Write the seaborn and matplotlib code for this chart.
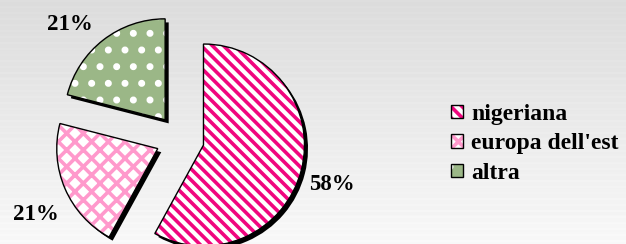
import numpy as np
import matplotlib
matplotlib.use("Agg")
import matplotlib.pyplot as plt
import matplotlib.transforms as mtransforms
import seaborn as sns
from matplotlib.patches import Patch

sns.set_theme(style="white")
plt.rcParams['font.family'] = ['Liberation Serif', 'DejaVu Serif']
plt.rcParams['text.color'] = 'black'
plt.rcParams['hatch.linewidth'] = 2.6

# data
labels = ['nigeriana', "europa dell'est", 'altra']
values = [58, 21, 21]
face_colors = ['#ffffff', '#ffffff', '#9bb787']
hatch_colors = ['#f0067f', '#ff99cc', '#ffffff']
hatches = ['\\\\\\', 'xx', '.']

W, H = 626, 244
cx_px, cy_px, r_px = 180, 139, 101
# small pixel nudges for the percentage labels
label_nudge = [(-3, -6), (2, -12), (-12, -12)]

fig = plt.figure(figsize=(W / 100, H / 100), dpi=100)

# background gradient with faint horizontal stripes
bg = fig.add_axes([0, 0, 1, 1], zorder=0)
rows = np.linspace(0.86, 0.97, H)
rows = rows + np.where((np.arange(H) // 2) % 3 == 0, 0.008, 0.0)
bg.imshow(np.tile(rows[:, None], (1, W)), cmap='gray', vmin=0, vmax=1,
          aspect='auto', interpolation='nearest')
bg.axis('off')

ax = fig.add_axes([0, 0, 1, 1], zorder=1)
ax.patch.set_alpha(0)

explode = [0.24] * len(values)
off = 0.035

# shadow
ax.pie(values, explode=explode, startangle=90, counterclock=False,
       center=(off, -off), colors=['black'] * len(values),
       wedgeprops=dict(linewidth=0))

# hatched fill
wedges, _, autotexts = ax.pie(values, explode=explode, startangle=90,
                              counterclock=False, colors=face_colors,
                              autopct='%1.0f%%', pctdistance=1.34,
                              wedgeprops=dict(linewidth=0),
                              textprops=dict(fontsize=16.5, fontweight='bold',
                                             color='black'))
for w, h, hc in zip(wedges, hatches, hatch_colors):
    w.set_hatch(h)
    w.set_edgecolor(hc)

for t, (dx, dy) in zip(autotexts, label_nudge):
    t.set_transform(ax.transData + mtransforms.Affine2D().translate(dx, dy))

# outline
ax.pie(values, explode=explode, startangle=90, counterclock=False,
       wedgeprops=dict(fill=False, edgecolor='black', linewidth=1.0))

ax.set_aspect('auto')
ax.set_xlim(-cx_px / r_px, (W - cx_px) / r_px)
ax.set_ylim((cy_px - H) / r_px, cy_px / r_px)
ax.axis('off')

handles = []
for fc, h, hc in zip(face_colors, hatches, hatch_colors):
    fill = Patch(facecolor=fc, hatch=h, edgecolor=hc, linewidth=0)
    edge = Patch(fill=False, edgecolor='black', linewidth=1.0)
    handles.append((fill, edge))

leg = fig.legend(handles, labels, loc='center left',
                 bbox_to_anchor=(439 / W, 1 - 144 / H), frameon=False,
                 prop=dict(size=17, weight='bold'), borderpad=0,
                 handlelength=0.5, handleheight=0.5, handletextpad=0.35,
                 labelspacing=0.36)
for t in leg.get_texts():
    t.set_color('black')

fig.savefig('out.png', dpi=100)
